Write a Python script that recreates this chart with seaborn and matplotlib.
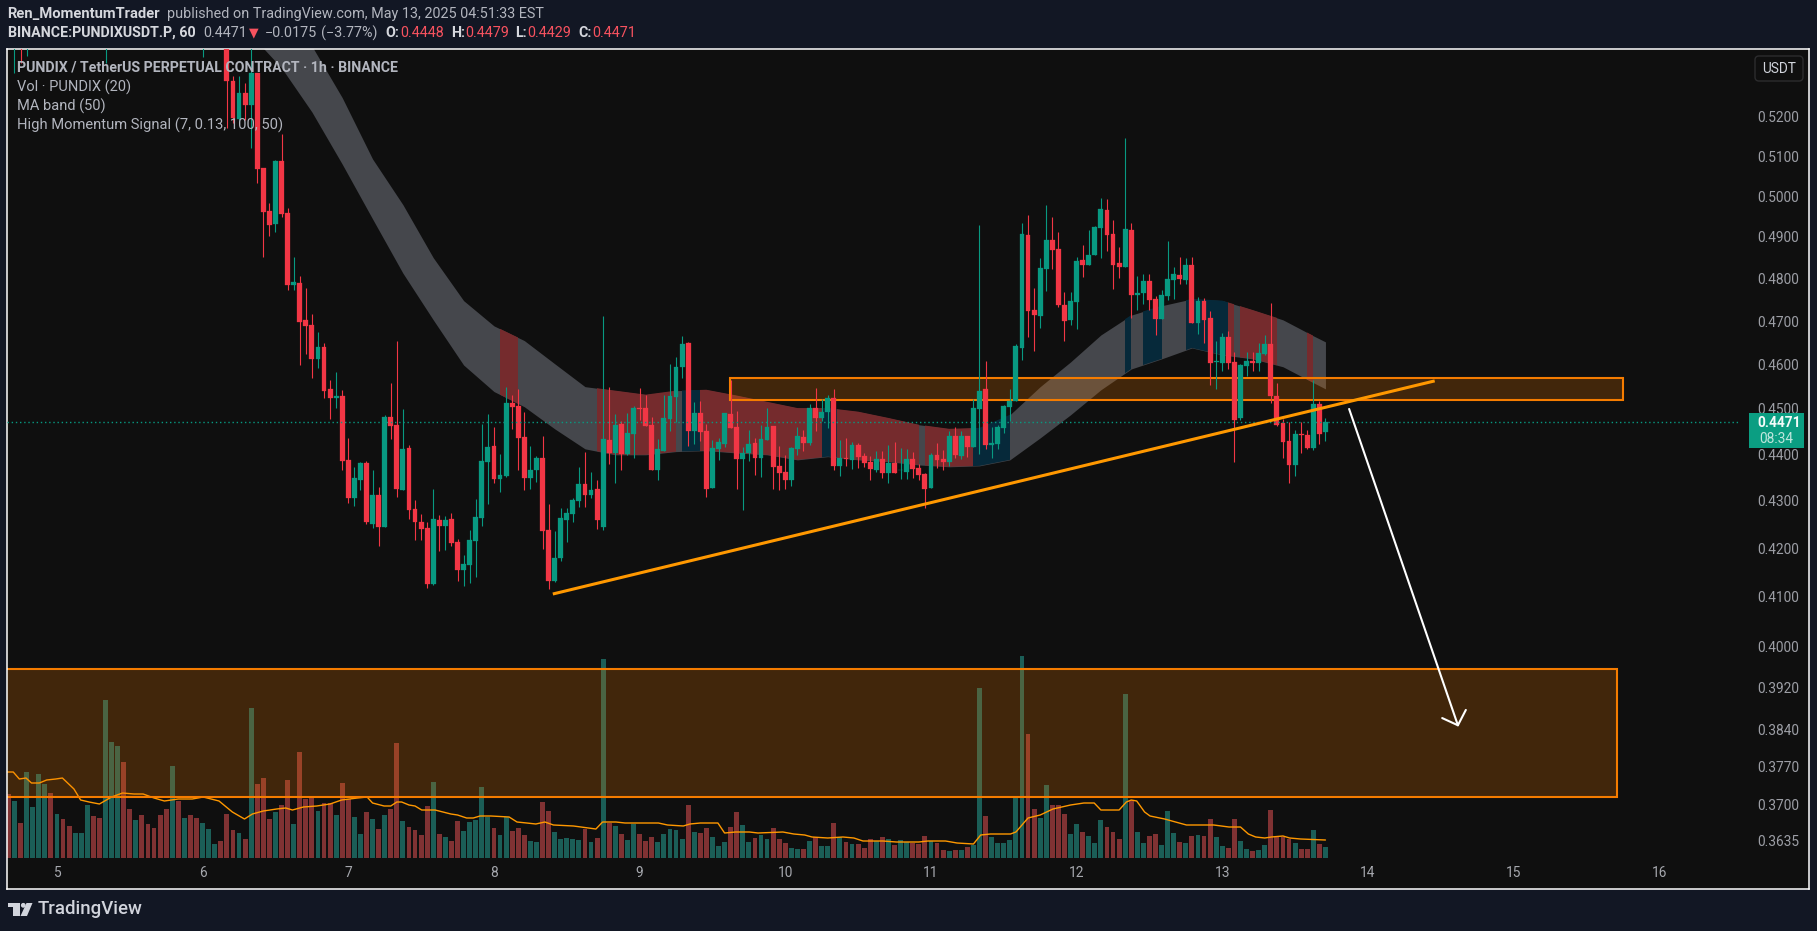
import numpy as np
import pandas as pd
import matplotlib
matplotlib.use("Agg")
import matplotlib.pyplot as plt
import seaborn as sns
from matplotlib.patches import Rectangle, FancyBboxPatch, Polygon, Circle
from matplotlib.ticker import NullLocator

# hourly candles, candle 36 is the first one inside the frame
first_candle = 36
opens = [.5430,.5294,.5195,.5263,.5231,.5315,.5070,.4964,.4932,.5088,
         .4959,.4785,.4790,.4703,.4691,.4613,.4641,.4545,.4525,.4530,
         .4388,.4306,.4345,.4382,.4251,.4313,.4245,.4483,.4465,.4324,
         .4414,.4283,.4256,.4243,.4127,.4260,.4247,.4262,.4214,.4156,
         .4166,.4216,.4264,.4384,.4419,.4347,.4354,.4514,.4507,.4439,
         .4349,.4365,.4392,.4239,.4133,.4180,.4260,.4272,.4300,.4335,
         .4313,.4326,.4245,.4431,.4403,.4467,.4401,.4445,.4502,.4502,
         .4465,.4365,.4408,.4478,.4527,.4595,.4650,.4452,.4491,.4452,
         .4328,.4412,.4423,.4489,.4461,.4390,.4403,.4425,.4392,.4432,
         .4463,.4375,.4362,.4345,.4412,.4439,.4425,.4502,.4480,.4494,
         .4525,.4375,.4392,.4388,.4421,.4397,.4384,.4367,.4390,.4360,
         .4382,.4365,.4362,.4390,.4371,.4358,.4328,.4399,.4390,.4384,
         .4441,.4397,.4441,.4417,.4500,.4545,.4421,.4423,.4458,.4505,
         .4518,.4638,.4905,.4727,.4712,.4823,.4893,.4871,.4738,.4703,
         .4745,.4845,.4833,.4857,.4922,.4966,.4907,.4838,.4828,.4917,
         .4762,.4766,.4795,.4752,.4705,.4759,.4797,.4809,.4797,.4833,
         .4696,.4748,.4707,.4606,.4604,.4664,.4606,.4480,.4597,.4609,
         .4604,.4625,.4648,.4530,.4469,.4430,.4377,.4445,.4443,.4414,
         .4511,.4448]
closes = [.5294,.5197,.5263,.5231,.5315,.5068,.4961,.4929,.5088,.4956,
          .4785,.4792,.4698,.4689,.4613,.4641,.4541,.4525,.4530,.4386,
          .4306,.4349,.4382,.4254,.4313,.4245,.4483,.4463,.4326,.4412,
          .4281,.4256,.4241,.4127,.4262,.4247,.4260,.4212,.4156,.4168,
          .4218,.4266,.4386,.4417,.4347,.4356,.4514,.4505,.4436,.4349,
          .4367,.4392,.4237,.4133,.4180,.4264,.4275,.4302,.4335,.4313,
          .4324,.4260,.4433,.4403,.4465,.4401,.4447,.4502,.4500,.4463,
          .4365,.4412,.4480,.4530,.4595,.4648,.4452,.4491,.4450,.4326,
          .4414,.4428,.4491,.4458,.4390,.4403,.4423,.4392,.4434,.4461,
          .4373,.4360,.4345,.4414,.4441,.4425,.4502,.4480,.4494,.4525,
          .4375,.4392,.4390,.4421,.4395,.4382,.4369,.4390,.4360,.4382,
          .4360,.4367,.4390,.4369,.4356,.4326,.4399,.4388,.4384,.4441,
          .4399,.4441,.4417,.4502,.4541,.4421,.4425,.4461,.4507,.4518,
          .4643,.4907,.4724,.4715,.4826,.4893,.4869,.4738,.4700,.4748,
          .4843,.4833,.4857,.4924,.4969,.4905,.4833,.4828,.4919,.4762,
          .4766,.4795,.4750,.4705,.4762,.4799,.4811,.4799,.4833,.4696,
          .4748,.4703,.4604,.4609,.4664,.4604,.4476,.4599,.4609,.4604,
          .4627,.4648,.4530,.4465,.4428,.4377,.4445,.4443,.4414,.4511,
          .4445,.4471]
highs = [.5460,.5306,.5307,.5289,.5402,.5315,.5070,.4984,.5090,.5156,
         .4971,.4852,.4806,.4778,.4717,.4675,.4650,.4566,.4584,.4542,
         .4436,.4373,.4384,.4386,.4367,.4330,.4487,.4559,.4655,.4500,
         .4421,.4302,.4272,.4256,.4326,.4270,.4268,.4275,.4220,.4186,
         .4239,.4304,.4467,.4489,.4461,.4401,.4550,.4532,.4545,.4494,
         .4419,.4397,.4441,.4294,.4237,.4285,.4285,.4306,.4373,.4405,
         .4362,.4345,.4712,.4550,.4489,.4474,.4491,.4507,.4548,.4532,
         .4483,.4434,.4532,.4602,.4618,.4666,.4652,.4516,.4518,.4467,
         .4432,.4436,.4491,.4566,.4496,.4417,.4454,.4436,.4465,.4502,
         .4463,.4419,.4399,.4417,.4461,.4454,.4511,.4548,.4523,.4532,
         .4545,.4432,.4436,.4427,.4425,.4403,.4397,.4408,.4408,.4421,
         .4427,.4414,.4412,.4405,.4380,.4360,.4403,.4425,.4410,.4452,
         .4461,.4452,.4441,.4523,.4929,.4608,.4461,.4465,.4509,.4545,
         .4648,.4934,.4954,.4778,.4850,.4979,.4949,.4912,.4769,.4769,
         .4852,.4881,.4917,.4927,.4996,.4993,.4942,.4876,.5146,.4934,
         .4806,.4811,.4811,.4759,.4773,.4891,.4828,.4852,.4850,.4852,
         .4757,.4755,.4724,.4655,.4673,.4678,.4629,.4602,.4629,.4629,
         .4650,.4668,.4742,.4559,.4478,.4472,.4454,.4470,.4454,.4566,
         .4518,.4479]
lows = [.5172,.5185,.5192,.5192,.5120,.5033,.4852,.4902,.4912,.4949,
        .4773,.4773,.4599,.4625,.4570,.4593,.4525,.4478,.4502,.4365,
        .4296,.4289,.4324,.4251,.4243,.4205,.4245,.4434,.4308,.4324,
        .4262,.4218,.4218,.4119,.4125,.4195,.4197,.4205,.4133,.4123,
        .4129,.4141,.4247,.4294,.4337,.4319,.4352,.4456,.4367,.4324,
        .4326,.4341,.4199,.4117,.4131,.4174,.4214,.4254,.4287,.4287,
        .4306,.4241,.4239,.4380,.4339,.4367,.4399,.4392,.4476,.4463,
        .4365,.4345,.4408,.4452,.4472,.4570,.4419,.4423,.4430,.4308,
        .4328,.4388,.4417,.4458,.4326,.4281,.4386,.4356,.4352,.4432,
        .4326,.4324,.4326,.4332,.4399,.4408,.4421,.4452,.4474,.4458,
        .4365,.4354,.4375,.4369,.4371,.4373,.4345,.4362,.4349,.4337,
        .4360,.4347,.4347,.4349,.4345,.4285,.4328,.4371,.4367,.4375,
        .4392,.4390,.4395,.4417,.4401,.4412,.4392,.4412,.4447,.4474,
        .4518,.4611,.4664,.4632,.4684,.4771,.4823,.4733,.4655,.4691,
        .4682,.4804,.4833,.4857,.4850,.4867,.4776,.4802,.4828,.4708,
        .4726,.4741,.4726,.4668,.4705,.4750,.4752,.4788,.4788,.4696,
        .4671,.4650,.4554,.4545,.4586,.4590,.4384,.4476,.4575,.4586,
        .4586,.4622,.4514,.4463,.4392,.4339,.4354,.4403,.4412,.4410,
        .4423,.4429]

# wicks of older candles that just reach into the frame from above
old_wick_idx = [1, 2, 3, 16, 32]
old_wick_low = [.5315, .5341, .5360, .5341, .5357]
old_wick_dir = ["g", "r", "g", "g", "g"]

volumes = [64,57,35,86,51,84,74,65,44,39,
           32,25,25,53,42,40,158,116,112,96,
           49,38,43,34,30,43,49,92,57,40,
           43,40,35,29,14,17,44,28,25,19,
           150,74,80,39,46,53,78,34,106,59,
           61,47,55,55,43,75,59,41,24,46,
           39,29,43,49,115,37,31,28,23,52,
           76,24,21,17,37,27,36,38,71,41,
           30,23,41,27,30,23,17,16,56,47,
           26,19,20,19,18,29,16,20,199,35,
           32,24,18,34,24,17,21,16,24,29,
           28,19,53,26,25,30,21,12,16,31,
           46,33,16,20,23,19,30,19,15,10,
           9,9,17,21,12,12,35,21,16,14,
           14,10,19,17,21,19,13,18,16,15,
           14,22,17,15,8,7,8,8,11,13,
           170,42,21,15,15,18,60,202,124,49,
           40,73,53,53,44,24,34,26,22,15,
           38,31,26,19,164,58,26,15,22,24,
           13,47,25,16,15,22,23,22,39,21,
           12,10,39,17,9,7,8,13,48,21,
           21,19,15,9,9,28,14,11]
volume_dir = list("rgrggggrgr" "rgggrrgggr" "rgrrrrrgrg" "rrgggrrrgr"
                  "grrrgrrgrr" "rgrrgrrggr" "grgrrgrrrr" "grgrrggggg"
                  "rggrrrggrr" "gggggrgrgr" "grggrrrggg" "ggrgrrgggr"
                  "rggrggrrrg" "grgrggrgrg" "rrrgrgrggr" "rrgrrgrgrg"
                  "grggggggrr" "ggrrrggrgg" "grrrgrggrr" "gggrgrgrrg"
                  "grrggrggrr" "rrgrrgrg")

# 20 period volume average, read at its corners
vol_ma_idx = [-0.13,0.8,1.8,2.9,3.8,5.1,6.3,7.8,8.9,10.8,11.9,13.3,15,17,18.8,20.7,22.2,24,25.7,28,
              30.3,32.1,34.7,36.9,38.9,40.2,42,44.2,45.7,46.8,48.6,50.8,53,54.9,57.5,59.1,60,61.9,63,64,
              64.8,66,67,68.1,70.3,72.9,74,75.5,76.6,77.7,79.5,82.5,83.8,85.4,86.9,88.4,89.8,93.1,96.8,97.9,
              100.1,101.6,107.1,108.6,111.2,112.3,114,116.9,118,119.8,122.1,123.5,127.6,129.4,131.2,132.4,135,137.5,139.3,140.8,
              144.1,146.3,150,151.5,154.4,156.3,159,160.2,161.8,165.1,166,168,170,172.1,175,177.2,178.9,180,183,184.2,
              185,185.9,187.2,188.1,190.5,194.1,198.6,201.1,203,204.3,205.5,207,208.1,210,211.1,212.9,217]
vol_ma = [86,86,79,80,75,75,78,79,80,69,58,56,54,61,65,64,64,60,57,59,
          59,61,57,46,39,44,47,49,50,48,51,52,54,58,60,61,55,52,52,56,
          56,53,52,48,48,44,43,40,40,42,42,41,36,35,34,36,33,32,29,36,
          36,35,35,33,32,34,35,35,25,26,26,25,26,24,23,21,20,21,20,17,
          17,16,16,17,17,15,14,23,24,24,26,40,43,49,53,55,55,48,48,56,
          58,57,46,42,39,33,33,31,31,24,21,20,21,22,20,19,18]

# MA band edges
band_idx = [40,45,50,55,60,65,70,75,80,85,90,95,100,105,110,115,120,125,130,135,
            140,145,150,155,160,165,170,175,180,185,190,195,200,205,210,215,217]
band_upper = [.5676,.5553,.5386,.5250,.5093,.4979,.4850,.4748,.4689,.4655,.4602,.4550,.4541,.4532,.4541,.4543,.4530,.4516,.4502,.4502,
              .4494,.4480,.4465,.4456,.4458,.4487,.4550,.4606,.4668,.4714,.4736,.4752,.4748,.4726,.4703,.4666,.4652]
band_lower = [.5415,.5328,.5213,.5080,.4944,.4813,.4703,.4599,.4539,.4505,.4456,.4412,.4399,.4399,.4406,.4408,.4403,.4399,.4388,.4395,
              .4388,.4384,.4377,.4373,.4375,.4388,.4436,.4487,.4543,.4590,.4613,.4638,.4622,.4613,.4595,.4559,.4545]
# stretches of the band with another colour (start, end, kind)
band_spans = [(81,84,"r"),(97,110,"r"),(111,114,"b"),(114,134,"r"),(134,136.5,"b"),(136.5,150,"r"),
              (151,159,"r"),(159,165,"b"),(184,185,"b"),(187,190,"b"),(194,201,"b"),(201,202,"r"),
              (203,209,"r"),(214,215,"r")]

price_ticks = [.52,.51,.50,.49,.48,.47,.46,.45,.44,.43,.42,.41,.40,.392,.384,.377,.37,.3635]
price_labels = ["0.5200","0.5100","0.5000","0.4900","0.4800","0.4700","0.4600","0.4500","0.4400",
                "0.4300","0.4200","0.4100","0.4000","0.3920","0.3840","0.3770","0.3700","0.3635"]
day_labels = [5,6,7,8,9,10,11,12,13,14,15,16]
day_ticks = [8 + 24 * (d - 5) for d in day_labels]

last_price = 0.4471

GREEN = "#089981"
RED = "#f23645"
ORANGE = "#f57c00"
TREND = "#ff9800"
BG = "#0f0f0f"
PAGE = "#121724"
W, H = 1817, 931

sns.set_theme(style="dark")
plt.rcParams["font.family"] = ["Roboto", "DejaVu Sans"]

fig = plt.figure(figsize=(W / 100, H / 100), dpi=100, facecolor=PAGE)
rect = [7 / W, (H - 889) / H, (1809 - 7) / W, (889 - 49) / H]

# volume sits in its own axes under everything else
ax_vol = fig.add_axes(rect, facecolor=BG, zorder=1)
vol_df = pd.DataFrame({"idx": np.arange(len(volumes)), "vol": volumes, "dir": volume_dir})
sns.barplot(data=vol_df, x="idx", y="vol", hue="dir", palette={"g": "#1b5e57", "r": "#803233"},
            native_scale=True, dodge=False, width=0.8, saturation=1, linewidth=0, legend=False, ax=ax_vol)
ma_df = pd.DataFrame({"idx": vol_ma_idx, "ma": vol_ma})
sns.lineplot(data=ma_df, x="idx", y="ma", color=TREND, lw=1.0, errorbar=None, sort=False, ax=ax_vol)
ax_vol.set_xlim(-0.23, 296.67)
ax_vol.set_ylim(-31, 809)
ax_vol.set(xticks=[], yticks=[], xlabel="", ylabel="")
ax_vol.grid(False)
for s in ax_vol.spines.values():
    s.set_visible(False)

ax = fig.add_axes(rect, zorder=2, facecolor="none")
ax.set_yscale("log")
ax.set_xlim(-0.23, 296.67)
ax.set_ylim(0.3548, 0.5378)

# MA band
band = ax.fill_between(band_idx, band_lower, band_upper, color="#45474c", lw=0, zorder=1)
band_path = band.get_paths()[0]
for start, end, kind in band_spans:
    span = ax.axvspan(start, end, color={"r": "#752b2d", "b": "#06293a"}[kind], lw=0, zorder=1.1)
    span.set_clip_path(band_path, ax.transData)

# drawn zones
for x0, x1, p0, p1 in [(118.9, 266, 0.4521, 0.4570), (-3, 265, 0.3714, 0.3957)]:
    ax.add_patch(Rectangle((x0, p0), x1 - x0, p1 - p0, facecolor=ORANGE, alpha=0.22, lw=0, zorder=2))
    ax.add_patch(Rectangle((x0, p0), x1 - x0, p1 - p0, fill=False, edgecolor=ORANGE, lw=1.5, zorder=2.1))

# candles
candle_x = np.arange(first_candle, first_candle + len(opens))
o, h, l, c = map(np.array, (opens, highs, lows, closes))
candle_colors = np.where(c > o, GREEN, RED)
ax.vlines(candle_x, l, h, colors=candle_colors, lw=0.8, zorder=3)
ax.bar(candle_x, np.abs(c - o), bottom=np.minimum(o, c), width=0.8, color=candle_colors,
       edgecolor=candle_colors, lw=0.2, zorder=3.1)
ax.vlines(old_wick_idx, old_wick_low, 0.56, colors=[GREEN if d == "g" else RED for d in old_wick_dir],
          lw=0.8, zorder=3)

# last price line
ax.plot([-0.23, 285.3], [last_price, last_price], color=GREEN, lw=1, ls=(0, (1, 2)), zorder=3.2)

# trend line and projection
ax.plot([89.7, 235], [0.4106, 0.4563], color=TREND, lw=2.2, solid_capstyle="butt", zorder=3.3)
ax.annotate("", xy=(238.9, 0.3845), xytext=(220.9, 0.45),
            arrowprops=dict(arrowstyle="->,head_length=0.43,head_width=0.45", color="white", lw=1.5,
                            shrinkA=0, shrinkB=0, mutation_scale=20), zorder=3.4)

ax.yaxis.tick_right()
ax.set_yticks(price_ticks, price_labels)
ax.yaxis.set_minor_locator(NullLocator())
ax.tick_params(axis="y", which="both", length=0, pad=-7.2, labelsize=9.9, labelcolor="#9c9ea5")
for lab in ax.get_yticklabels():
    lab.set_ha("right")
ax.set_xticks(day_ticks, day_labels)
ax.tick_params(axis="x", length=0, pad=-16.5, labelsize=9.9, labelcolor="#a6a8ae")
ax.set_xlabel("")
ax.set_ylabel("")
ax.grid(False)
for s in ax.spines.values():
    s.set_color("#ffffff")
    s.set_linewidth(1.1)
    s.set_visible(True)


def ptext(x, y, s, **kw):
    kw.setdefault("va", "center")
    return fig.text(x / W, 1 - y / H, s, zorder=20, **kw)


# page header
LIGHT = "#d5d7dd"
MID = "#b2b5be"
SALE = "#f7525f"
ptext(7.6, 14, "Ren_MomentumTrader", color=LIGHT, fontsize=10.6, fontweight="bold")
ptext(166.5, 14, "published on TradingView.com, May 13, 2025 04:51:33 EST", color=MID, fontsize=10.4)
ptext(7.6, 33, "BINANCE:PUNDIXUSDT.P, 60", color=LIGHT, fontsize=10.3, fontweight="bold")
ptext(203, 33, "0.4471", color=MID, fontsize=10.4)
ptext(249, 33, "▼", color=SALE, fontsize=9, family="DejaVu Sans")
ptext(265, 33, "−0.0175", color=MID, fontsize=10.4)
ptext(321, 33, "(−3.77%)", color=MID, fontsize=10.4)
for x_lab, lab, x_val, val in [(385, "O:", 400, "0.4448"), (451, "H:", 465, "0.4479"),
                               (515.5, "L:", 527, "0.4429"), (578, "C:", 592, "0.4471")]:
    ptext(x_lab, 33, lab, color=LIGHT, fontsize=10.3, fontweight="bold")
    ptext(x_val, 33, val, color=SALE, fontsize=10.4)

# indicator legend
ptext(17, 68, "PUNDIX / TetherUS PERPETUAL CONTRACT · 1h · BINANCE", color=MID, fontsize=10.2, fontweight="bold")
ptext(17, 87, "Vol · PUNDIX (20)", color=MID, fontsize=10.5)
ptext(17, 106, "MA band (50)", color=MID, fontsize=10.5)
ptext(17, 125, "High Momentum Signal (7, 0.13, 100, 50)", color=MID, fontsize=10.6)


def box(patch):
    patch.set_transform(None)
    patch.set_zorder(15)
    fig.add_artist(patch)


def py(y):
    return H - y


# USDT button
box(FancyBboxPatch((1755, py(81)), 48, 25, boxstyle="round,pad=0,rounding_size=4", facecolor=BG,
                   edgecolor="#2c2c2e", lw=1))
ptext(1779, 69, "USDT", color="#d1d4dc", fontsize=9.8, ha="center")

# last price tag
box(Rectangle((1749, py(448)), 55, 35, facecolor="#0b9e82", lw=0))
ptext(1779, 423, "0.4471", color="#f4fbf9", fontsize=9.9, fontweight="bold", ha="center")
ptext(1776, 439, "08:34", color="#bfe6dd", fontsize=9.9, ha="center")

# TradingView mark
LOGO = "#d1d4dc"
box(Polygon([(7.6, py(903)), (20, py(903)), (20, py(916)), (13.4, py(916)), (13.4, py(907)), (7.6, py(907))],
            closed=True, facecolor=LOGO, lw=0))
box(Circle((23.3, py(905.3)), 2.4, facecolor=LOGO, lw=0))
box(Polygon([(26.5, py(903)), (32.5, py(903)), (27, py(916)), (20.5, py(916))], closed=True, facecolor=LOGO, lw=0))
ptext(38, 909.5, "TradingView", color=LOGO, fontsize=13.4, fontweight="medium")

fig.savefig("out.png", dpi=100, facecolor=PAGE)
